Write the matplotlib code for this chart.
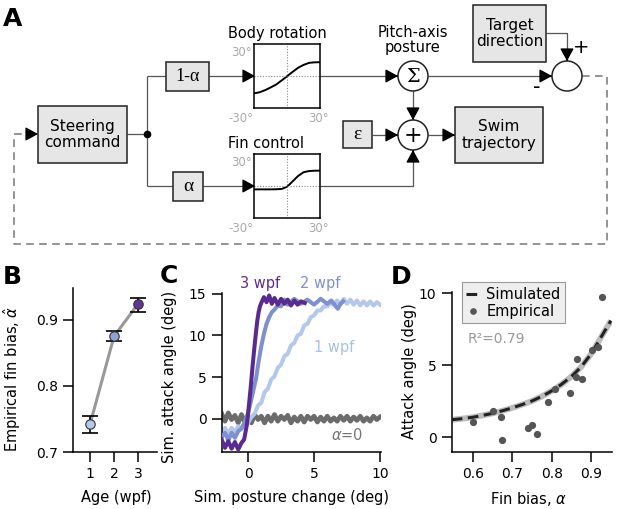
import matplotlib
matplotlib.use('Agg')
import matplotlib.pyplot as plt
from matplotlib.patches import Rectangle, Circle

plt.rcParams['font.family'] = ['DejaVu Sans']
plt.rcParams['mathtext.fontset'] = 'dejavusans'

# ---------------- data ----------------
# Panel A insets (input deg -> output deg)
inset_x = [-30, -25, -20, -15, -10, -5, 0, 5, 10, 15, 20, 25, 30]
body_y = [-16, -15, -13, -10.5, -7.8, -4, 0, 4, 7.8, 10.5, 12.4, 12.9, 13]
fin_y = [-3, -3, -3, -3, -2.9, -2.6, -0.5, 4.5, 9.5, 13, 14.1, 14.4, 14.5]

# Panel B
ages = [1, 2, 3]
age_labels = ['1', '2', '3']
fin_bias = [0.742, 0.875, 0.924]
fin_bias_lo = [0.729, 0.868, 0.912]
fin_bias_hi = [0.754, 0.883, 0.933]
age_colors = ['#b3c8ec', '#8ea1d8', '#63359a']

# Panel C
wpf3_x = [-2.0, -1.75, -1.5, -1.25, -1.0, -0.75, -0.5, -0.3, -0.1, 0.0, 0.1, 0.2, 0.3, 0.4, 0.5,
          0.6, 0.7, 0.8, 0.9, 1.0, 1.2, 1.4, 1.6, 1.8, 2.0, 2.25, 2.5, 2.75, 3.0, 3.25, 3.5,
          3.75, 4.0, 4.3]
wpf3_y = [-2.5, -3.5, -2.7, -3.6, -2.8, -3.7, -2.9, -2.5, -0.8, 0.6, 2.2, 3.8, 5.6, 7.3, 8.9,
          10.4, 11.8, 12.8, 13.5, 13.9, 14.6, 14.0, 14.8, 13.8, 14.5, 13.7, 14.4, 13.8, 14.3,
          13.6, 14.2, 13.7, 14.1, 13.9]
wpf2_x = [-2.0, -1.75, -1.5, -1.25, -1.0, -0.75, -0.5, -0.25, 0.0, 0.2, 0.4, 0.6, 0.8, 1.0,
          1.2, 1.4, 1.6, 1.8, 2.0, 2.25, 2.5, 2.75, 3.0, 3.5, 4.0, 4.5, 5.0, 5.5, 6.0, 6.3,
          6.6, 6.8, 7.0, 7.2]
wpf2_y = [-2.2, -1.7, -2.6, -1.7, -2.3, -1.5, -1.2, -0.4, 0.7, 2.0, 3.4, 4.8, 6.9, 8.7,
          10.2, 11.4, 12.2, 12.8, 13.1, 13.6, 13.5, 14.3, 13.7, 14.4, 13.8, 14.3, 13.7, 14.4,
          13.8, 14.2, 13.6, 13.2, 13.8, 14.1]
sim_x = [-2.0, -1.75, -1.5, -1.25, -1.0, -0.75, -0.5, -0.25, 0.0, 0.25, 0.5, 0.75, 1.0,
         1.25, 1.5, 1.75, 2.0, 2.25, 2.5, 2.75, 3.0, 3.25, 3.5, 3.75, 4.0, 4.25, 4.5, 4.75,
         5.0, 5.25, 5.5, 5.75, 6.0, 6.25, 6.5, 6.75, 7.0, 7.25, 7.5, 7.75, 8.0, 8.25, 8.5,
         8.75, 9.0, 9.25, 9.5, 9.75, 10.0]
wpf1_y = [-1.6, -1.1, -1.8, -1.1, -1.6, -0.9, -1.2, -0.5, -0.5, 0.2, 0.6, 1.6, 1.9, 3.2,
          3.6, 4.7, 5.1, 6.1, 6.5, 7.5, 7.8, 8.8, 9.1, 10.0, 10.2, 11.2, 11.4, 12.2, 12.4,
          13.0, 13.0, 13.5, 13.5, 13.9, 13.7, 14.2, 13.7, 14.4, 13.8, 14.3, 13.7, 14.2, 13.6,
          14.1, 13.6, 14.1, 13.6, 14.0, 13.7]
alpha0_y = [0.6, -0.3, 0.7, -0.1, 0.4, -0.5, 0.5, -0.4, 0.2, -0.5, 0.5, -0.1, 0.3, -0.5,
            0.3, -0.3, 0.5, -0.3, 0.3, -0.1, 0.4, -0.5, 0.2, -0.3, 0.3, -0.4, 0.3, -0.1, 0.3,
            -0.4, 0.2, -0.3, 0.3, -0.3, 0.1, -0.3, 0.3, -0.2, 0.3, -0.3, 0.2, -0.2, 0.3, -0.3,
            0.1, -0.3, 0.3, -0.1, 0.2]

# Panel D
emp_bias = [0.602, 0.652, 0.673, 0.674, 0.741, 0.750, 0.764, 0.792, 0.808, 0.846, 0.861,
            0.864, 0.877, 0.901, 0.918, 0.927]
emp_attack = [1.04, 1.85, 1.39, -0.19, 0.62, 0.88, 0.21, 2.45, 3.35, 3.08, 4.21, 5.44, 4.05,
              6.06, 6.29, 9.76]
simd_x = [0.547, 0.575, 0.60, 0.625, 0.65, 0.675, 0.70, 0.725, 0.75, 0.775, 0.80, 0.825,
          0.85, 0.875, 0.90, 0.925, 0.95]
simd_y = [1.22, 1.30, 1.39, 1.52, 1.66, 1.84, 2.04, 2.27, 2.52, 2.84, 3.22, 3.68, 4.22, 4.9,
          5.8, 6.95, 8.1]

# ---------------- figure ----------------
W, H = 617, 509
fig = plt.figure(figsize=(W / 100, H / 100), dpi=100)


def px_axes(x0, y0, x1, y1):
    return fig.add_axes([x0 / W, 1 - y1 / H, (x1 - x0) / W, (y1 - y0) / H])


axA = fig.add_axes([0, 0, 1, 1])
axA.set_xlim(0, W)
axA.set_ylim(H, 0)
axA.axis('off')

LC = '#555555'
BOXFC = '#e6e6e6'


def box(x0, y0, x1, y1, text, fs=11, family=None):
    axA.add_patch(Rectangle((x0, y0), x1 - x0, y1 - y0, fc=BOXFC, ec='#222222', lw=1.1, zorder=2))
    kw = {}
    if family:
        kw['family'] = family
    axA.text((x0 + x1) / 2, (y0 + y1) / 2, text, ha='center', va='center', fontsize=fs,
             linespacing=1.15, zorder=3, **kw)


def line(xs, ys, **kw):
    d = dict(color=LC, lw=0.9, zorder=1, solid_capstyle='butt')
    d.update(kw)
    axA.plot(xs, ys, **d)


def head(x0, y0, x1, y1):
    axA.annotate('', xy=(x1, y1), xytext=(x0, y0),
                 arrowprops=dict(arrowstyle='-|>,head_length=0.55,head_width=0.3',
                                 color='black', lw=0.9, shrinkA=0, shrinkB=0,
                                 mutation_scale=14), zorder=4)


def arrow(xs, ys):
    line(xs, ys)
    x1, y1 = xs[-1], ys[-1]
    x0, y0 = xs[-2], ys[-2]
    dx = 0 if x1 == x0 else (1 if x1 > x0 else -1)
    dy = 0 if y1 == y0 else (1 if y1 > y0 else -1)
    head(x1 - dx * 2, y1 - dy * 2, x1, y1)


# boxes
box(38, 106, 127, 163, 'Steering\ncommand', 11)
box(166, 62, 209, 91, '1-α', 13, 'Liberation Serif')
box(173, 172, 203, 201, 'α', 14, 'Liberation Serif')
box(343, 121, 372, 148, 'ε', 14, 'Liberation Serif')
box(455, 107, 543, 163, 'Swim\ntrajectory', 11)
box(473, 5, 546, 62, 'Target\ndirection', 11)

# circles
for cx, cy, sym, fs in [(413, 76, 'Σ', 14), (413, 135, '+', 16), (567, 76, '', 12)]:
    axA.add_patch(Circle((cx, cy), 15, fc='white', ec='#222222', lw=1.1, zorder=2))
    if sym:
        axA.text(cx, cy + 1, sym, ha='center', va='center', fontsize=fs, zorder=3,
                 family='DejaVu Serif')

# connectors
line([127, 147], [134, 134])
line([147, 147], [76, 186])
axA.plot([147], [134], 'o', color='black', ms=4.5, zorder=3)
line([147, 166], [76, 76])
line([147, 173], [186, 186])
arrow([209, 255], [76, 76])
arrow([203, 255], [186, 186])
arrow([320, 398], [76, 76])
arrow([413, 413], [91, 120])
arrow([372, 398], [135, 135])
arrow([320, 413, 413], [186, 186, 150])
arrow([428, 455], [135, 135])
arrow([428, 552], [76, 76])
arrow([546, 567, 567], [33, 33, 61])
axA.text(581, 47, '+', ha='center', va='center', fontsize=14)
axA.text(537, 87, '-', ha='center', va='center', fontsize=15)

# dashed feedback
axA.plot([582, 607, 607, 14, 14, 31], [76, 76, 244, 244, 134, 134], color='#777777',
         lw=1.1, dashes=(5, 3.5), zorder=1)
head(34, 134, 38, 134)

# titles in panel A
axA.text(228, 33, 'Body rotation', ha='left', va='center', fontsize=10.5)
axA.text(228, 143, 'Fin control', ha='left', va='center', fontsize=10.5)
axA.text(413, 40, 'Pitch-axis\nposture', ha='center', va='center', fontsize=10.5,
         linespacing=1.0)

# panel letters
for lx, ly, lab in [(3, 19, 'A'), (3, 277, 'B'), (160, 276, 'C'), (391, 277, 'D')]:
    axA.text(lx, ly, lab, ha='left', va='center', fontsize=18, fontweight='bold')

# insets
GRAYT = '#aaaaaa'
for (y0, y1), ydata in [((44, 108.3), body_y), ((154, 218.3), fin_y)]:
    ax = px_axes(254.3, y0, 320, y1)
    ax.plot(inset_x, ydata, color='black', lw=1.4)
    ax.axhline(0, color='#888888', lw=0.8, ls=(0, (1, 1.5)))
    ax.axvline(0, color='#888888', lw=0.8, ls=(0, (1, 1.5)))
    ax.set_xlim(-30, 30)
    ax.set_ylim(-30, 30)
    ax.set_xticks([])
    ax.set_yticks([])
    for s in ax.spines.values():
        s.set_linewidth(1.1)
    axA.text(252, y0 + 8, '30°', ha='right', va='center', fontsize=8.5, color=GRAYT)
    axA.text(241, y1 + 10, '-30°', ha='center', va='center', fontsize=8.5, color=GRAYT)
    axA.text(318, y1 + 10, '30°', ha='center', va='center', fontsize=8.5, color=GRAYT)


def style(ax):
    ax.spines[['top', 'right']].set_visible(False)
    for s in ['left', 'bottom']:
        ax.spines[s].set_linewidth(1.1)
    ax.tick_params(direction='out', length=7, width=1.1, labelsize=10, pad=4)
    ax.patch.set_alpha(0)


# ---------------- panel B ----------------
axB = px_axes(73, 288, 157, 452)
style(axB)
axB.plot(ages, fin_bias, color='#999999', lw=2.2, zorder=1)
yerr = [[m - lo for m, lo in zip(fin_bias, fin_bias_lo)],
        [hi - m for m, hi in zip(fin_bias, fin_bias_hi)]]
axB.errorbar(ages, fin_bias, yerr=yerr, fmt='none', ecolor='black', elinewidth=1.2,
             capsize=6, capthick=1.2, zorder=2)
for a, v, c in zip(ages, fin_bias, age_colors):
    axB.plot([a], [v], 'o', ms=6.8, mfc=c, mec='#333333', mew=0.8, zorder=3)
axB.set_xlim(0.29, 3.79)
axB.set_ylim(0.7, 0.948)
axB.set_xticks(ages)
axB.set_xticklabels(age_labels)
axB.set_yticks([0.7, 0.8, 0.9])
axB.set_yticklabels(['0.7', '0.8', '0.9'])
axB.set_xlabel('Age (wpf)', fontsize=10.5)
axB.set_ylabel(r'Empirical fin bias, $\hat{\alpha}$', fontsize=10.5)
axB.xaxis.set_label_coords(0.52, -0.232)
axB.yaxis.set_label_coords(-0.60, 0.445)

# ---------------- panel C ----------------
axC = px_axes(221.7, 293, 380.7, 452)
style(axC)
LWC = 2.9
axC.plot(sim_x, alpha0_y, color='#6b6b6b', lw=3.4, zorder=1)
axC.plot(sim_x, wpf1_y, color=age_colors[0], lw=LWC, zorder=2)
axC.plot(wpf2_x, wpf2_y, color='#7d90cf', lw=LWC, zorder=3)
axC.plot(wpf3_x, wpf3_y, color='#5b2a91', lw=LWC, zorder=4)
axC.set_xlim(-2, 10.05)
axC.set_ylim(-4, 15.1)
axC.set_xticks([0, 5, 10])
axC.set_yticks([0, 5, 10, 15])
axC.set_xlabel('Sim. posture change (deg)', fontsize=10.5)
axC.set_ylabel('Sim. attack angle (deg)', fontsize=10.5)
axC.xaxis.set_label_coords(0.44, -0.239)
axC.yaxis.set_label_coords(-0.281, 0.469)
axC.text(0.9, 16.2, '3 wpf', color='#5b2a91', fontsize=10.5, ha='center', va='center',
         clip_on=False)
axC.text(5.5, 16.2, '2 wpf', color='#7d90cf', fontsize=10.5, ha='center', va='center',
         clip_on=False)
axC.text(6.5, 8.6, '1 wpf', color='#a9c0e8', fontsize=10.5, ha='center', va='center')
axC.text(7.5, -1.9, r'$\alpha$=0', color='#777777', fontsize=10.5, ha='center', va='center')

# ---------------- panel D ----------------
axD = px_axes(451.7, 292, 611.7, 452)
style(axD)
axD.plot(simd_x, simd_y, color='#bbbbbb', lw=4.2, zorder=2, solid_capstyle='butt')
axD.plot(simd_x, simd_y, color='#222222', lw=2.2, dashes=(3.5, 1.8), zorder=3,
         label='Simulated')
axD.plot(emp_bias, emp_attack, 'o', color='#555555', ms=4.2, ls='none', zorder=4,
         label='Empirical')
axD.set_xlim(0.547, 0.952)
axD.set_ylim(-1.02, 10.09)
axD.set_xticks([0.6, 0.7, 0.8, 0.9])
axD.set_xticklabels(['0.6', '0.7', '0.8', '0.9'])
axD.set_yticks([0, 5, 10])
axD.set_xlabel(r'Fin bias, $\alpha$', fontsize=10.5)
axD.set_ylabel('Attack angle (deg)', fontsize=10.5)
axD.xaxis.set_label_coords(0.48, -0.239)
axD.yaxis.set_label_coords(-0.217, 0.506)
leg = axD.legend(loc='upper left', bbox_to_anchor=(0.0625, 1.06), borderaxespad=0,
                 fontsize=10.5, frameon=True, fancybox=False, handlelength=1.0,
                 handletextpad=0.4, borderpad=0.3, labelspacing=0.15, markerscale=0.9)
leg.get_frame().set_facecolor('#eeeeee')
leg.get_frame().set_edgecolor('#999999')
leg.get_frame().set_linewidth(0.8)
leg.get_frame().set_alpha(1)
axD.text(0.10, 0.706, 'R²=0.79', transform=axD.transAxes, color='#999999', fontsize=10,
         ha='left', va='center')

fig.savefig('out.png', dpi=100)
